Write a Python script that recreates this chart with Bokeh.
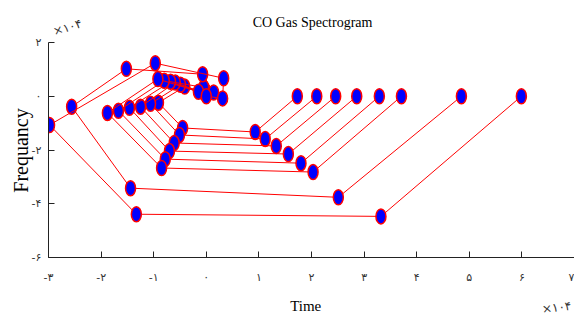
from bokeh.plotting import figure
from bokeh.models import Label, Range1d, FixedTicker
from bokeh.embed import file_html
from bokeh.resources import INLINE

# values in units of 10^4 (time, frequency), one list pair per trace
time_1 = [1.73, 0.93, -0.45, -0.91, -0.41, -0.01]
freq_1 = [0.00, -1.33, -1.18, -0.24, 0.36, 0.06]
time_2 = [2.10, 1.12, -0.51, -1.06, -0.49, 0.02]
freq_2 = [0.00, -1.59, -1.44, -0.28, 0.43, 0.09]
time_3 = [2.46, 1.33, -0.61, -1.25, -0.59, -0.03]
freq_3 = [0.00, -1.85, -1.74, -0.39, 0.51, 0.10]
time_4 = [2.86, 1.56, -0.70, -1.46, -0.68, 0.00]
freq_4 = [0.00, -2.15, -2.04, -0.43, 0.54, 0.04]
time_5 = [3.29, 1.80, -0.78, -1.67, -0.80, -0.05]
freq_5 = [0.00, -2.49, -2.34, -0.54, 0.58, 0.33]
time_6 = [3.71, 2.03, -0.85, -1.88, -0.92, -0.15]
freq_6 = [0.00, -2.82, -2.67, -0.62, 0.64, 0.17]
time_7 = [4.85, 2.51, -1.44, -2.56, -1.52, -0.07, 0.14]
freq_7 = [0.00, -3.76, -3.42, -0.39, 1.02, 0.82, 0.14]
time_8 = [5.99, 3.32, -1.33, -2.98, -0.97, 0.33, 0.31, 0.00]
freq_8 = [0.00, -4.47, -4.39, -1.07, 1.23, 0.67, -0.08, 0.00]

traces = [(time_1, freq_1), (time_2, freq_2), (time_3, freq_3), (time_4, freq_4),
          (time_5, freq_5), (time_6, freq_6), (time_7, freq_7), (time_8, freq_8)]

x_ticks = [-3, -2, -1, 0, 1, 2, 3, 4, 5, 6, 7]
x_tick_labels = ["-۳", "-۲", "-۱", "۰", "۱", "۲", "۳", "۴", "۵", "۶", "۷"]
y_ticks = [-6, -4, -2, 0, 2]
y_tick_labels = ["-۶", "-۴", "-۲", "۰", "۲"]

title_text = "CO Gas Spectrogram"
x_label = "Time"
y_label = "Frequancy"
mult_text = "×۱۰۴"

p = figure(width=574, height=320, x_range=Range1d(-3, 7), y_range=Range1d(-6, 2),
           output_backend="svg", toolbar_location=None,
           min_border_left=48, min_border_right=0, min_border_top=42, min_border_bottom=63)
p.title.visible = False
p.outline_line_color = None
p.xgrid.visible = False
p.ygrid.visible = False
p.background_fill_color = "white"
p.border_fill_color = "white"

for ax, ticks, labels, standoff in ((p.xaxis, x_ticks, x_tick_labels, 13),
                                    (p.yaxis, y_ticks, y_tick_labels, 7)):
    ax.ticker = FixedTicker(ticks=ticks)
    ax.major_label_overrides = {t: l for t, l in zip(ticks, labels)}
    ax.major_tick_in = 6
    ax.major_tick_out = 0
    ax.minor_tick_in = 0
    ax.minor_tick_out = 0
    ax.axis_line_color = "#222222"
    ax.major_tick_line_color = "#222222"
    ax.major_label_text_font = "DejaVu Sans"
    ax.major_label_text_font_size = "11px"
    ax.major_label_text_color = "#333333"
    ax.major_label_standoff = standoff

for tx, fy in traces:
    p.line(tx, fy, line_color="red", line_width=1)
    p.ellipse(x=tx, y=fy, width=10, height=15, width_units="screen", height_units="screen",
              fill_color="blue", line_color="red", line_width=1.5)

serif = "Liberation Serif"
# texts outside the frame live in side panels (not clipped); positions in data units
p.add_layout(Label(x=2.02, y=2.74, text=title_text, text_font=serif, text_font_size="14px",
                   text_align="center", text_baseline="middle", text_color="black"), "above")
p.add_layout(Label(x=-2.64, y=2.56, text=mult_text, text_font="DejaVu Sans", text_font_size="12px",
                   angle=0.3, text_align="center", text_baseline="middle", text_color="#333333"),
             "above")
p.add_layout(Label(x=1.89, y=-7.79, text=x_label, text_font=serif, text_font_size="15px",
                   text_align="center", text_baseline="middle", text_color="black"), "below")
p.add_layout(Label(x=6.66, y=-7.86, text=mult_text, text_font="DejaVu Sans", text_font_size="12px",
                   angle=0.12, text_align="center", text_baseline="middle", text_color="#333333"),
             "below")
p.add_layout(Label(x=-3.53, y=-2.02, text=y_label, text_font=serif, text_font_size="20px",
                   angle=1.5708, text_align="center", text_baseline="middle", text_color="black"),
             "left")

open("out.html", "w").write(file_html(p, INLINE))
